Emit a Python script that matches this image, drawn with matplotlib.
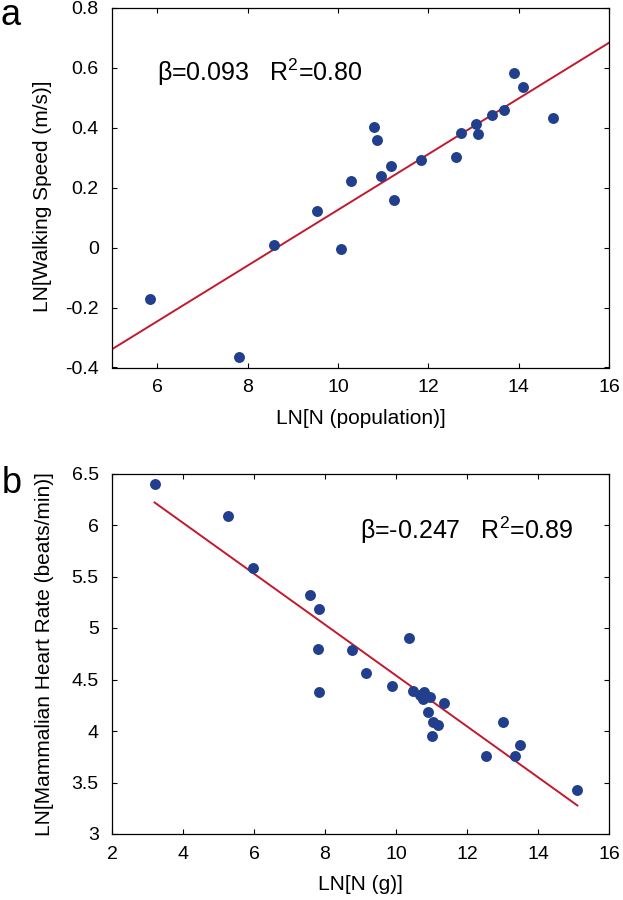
import matplotlib
matplotlib.use("Agg")
import matplotlib.pyplot as plt
import numpy as np

plt.rcParams['font.family'] = ['Liberation Sans', 'DejaVu Sans']
plt.rcParams['mathtext.fontset'] = 'custom'
plt.rcParams['mathtext.rm'] = 'Liberation Sans'
plt.rcParams['mathtext.it'] = 'Liberation Sans:italic'

# panel a: walking speed vs city population
pop_x = [5.83, 7.82, 8.59, 9.54, 10.06, 10.28, 10.80, 10.87, 10.95, 11.17, 11.25,
         11.83, 12.62, 12.73, 13.05, 13.11, 13.42, 13.67, 13.89, 14.10, 14.76]
speed_y = [-0.171, -0.366, 0.009, 0.123, -0.003, 0.224, 0.402, 0.359, 0.238, 0.274, 0.159,
           0.291, 0.301, 0.382, 0.413, 0.381, 0.444, 0.461, 0.584, 0.537, 0.432]
fit_a = (0.093, -0.804)   # slope, intercept
xlim_a = (5, 16)
ylim_a = (-0.4, 0.8)
xticks_a = [6, 8, 10, 12, 14, 16]
yticks_a = [-0.4, -0.2, 0, 0.2, 0.4, 0.6, 0.8]
yticklabels_a = ['-0.4', '-0.2', '0', '0.2', '0.4', '0.6', '0.8']

# panel b: mammalian heart rate vs body mass
mass_x = [3.20, 5.27, 5.97, 7.58, 7.84, 7.80, 7.83, 8.75, 9.15, 9.88, 10.38, 10.47, 10.68,
          10.79, 10.77, 10.96, 10.91, 11.36, 11.05, 11.17, 11.01, 12.53, 13.01, 13.35, 13.49, 15.11]
heart_y = [6.396, 6.084, 5.584, 5.321, 5.188, 4.799, 4.377, 4.782, 4.562, 4.438, 4.899, 4.393, 4.354,
           4.383, 4.315, 4.334, 4.185, 4.273, 4.088, 4.058, 3.948, 3.757, 4.088, 3.753, 3.867, 3.429]
fit_b = (-0.247, 7.009)
xlim_b = (2, 16)
ylim_b = (3, 6.5)
xticks_b = [2, 4, 6, 8, 10, 12, 14, 16]
yticks_b = [3, 3.5, 4, 4.5, 5, 5.5, 6, 6.5]
yticklabels_b = ['3', '3.5', '4', '4.5', '5', '5.5', '6', '6.5']

DOT = '#213f8c'
LINE = '#c3192d'
W, H = 623, 900

fig = plt.figure(figsize=(W / 100, H / 100), dpi=100)


def style_axes(ax):
    ax.tick_params(direction='in', length=3.6, width=0.8, top=True, right=True,
                   labelsize=14, colors='black')
    ax.tick_params(axis='x', pad=8.5)
    ax.tick_params(axis='y', pad=9.5)
    for s in ax.spines.values():
        s.set_linewidth(0.9)
        s.set_color('black')


# ---- a ----
ax1 = fig.add_axes([112 / W, 1 - 367.5 / H, 497 / W, 359.5 / H])
ax1.scatter(pop_x, speed_y, s=62, color=DOT, linewidths=0, zorder=3)
xx = np.array(xlim_a)
ax1.plot(xx, fit_a[0] * xx + fit_a[1], color=LINE, lw=1.4, zorder=2)
ax1.set_xlim(*xlim_a)
ax1.set_ylim(*ylim_a)
ax1.set_xticks(xticks_a)
ax1.set_yticks(yticks_a)
ax1.set_yticklabels(yticklabels_a)
style_axes(ax1)
ax1.set_xlabel('LN[N (population)]', fontsize=15)
ax1.xaxis.label.set_va('center')
ax1.xaxis.set_label_coords(0.5, (367.5 - 419) / 359.5)
ax1.set_ylabel('LN[Walking Speed (m/s)]', fontsize=15)
ax1.yaxis.label.set_va('center')
ax1.yaxis.set_label_coords((43 - 112) / 497, (367.5 - 196) / 359.5)
ax1.text((157 - 112) / 497, (367.5 - 72) / 359.5, r'β=0.093   R$^2$=0.80',
         transform=ax1.transAxes, fontsize=18, ha='left', va='center')

# ---- b ----
ax2 = fig.add_axes([112 / W, 1 - 834 / H, 497 / W, 360.5 / H])
ax2.scatter(mass_x, heart_y, s=62, color=DOT, linewidths=0, zorder=3)
xb = np.array([min(mass_x), max(mass_x)])
ax2.plot(xb, fit_b[0] * xb + fit_b[1], color=LINE, lw=1.4, zorder=2)
ax2.set_xlim(*xlim_b)
ax2.set_ylim(*ylim_b)
ax2.set_xticks(xticks_b)
ax2.set_yticks(yticks_b)
ax2.set_yticklabels(yticklabels_b)
style_axes(ax2)
ax2.set_xlabel('LN[N (g)]', fontsize=15)
ax2.xaxis.label.set_va('center')
ax2.xaxis.set_label_coords(0.5, (834 - 884) / 360.5)
ax2.set_ylabel('LN[Mammalian Heart Rate (beats/min)]', fontsize=15)
ax2.yaxis.label.set_va('center')
ax2.yaxis.set_label_coords((45 - 112) / 497, 0.5)
ax2.text((360 - 112) / 497, (834 - 530) / 360.5, r'β=-0.247   R$^2$=0.89',
         transform=ax2.transAxes, fontsize=18, ha='left', va='center')

# panel letters
fig.text(1 / W, 1 - 25 / H, 'a', fontsize=26, ha='left', va='baseline')
fig.text(2 / W, 1 - 493 / H, 'b', fontsize=26, ha='left', va='baseline')

fig.savefig('out.png', dpi=100)
